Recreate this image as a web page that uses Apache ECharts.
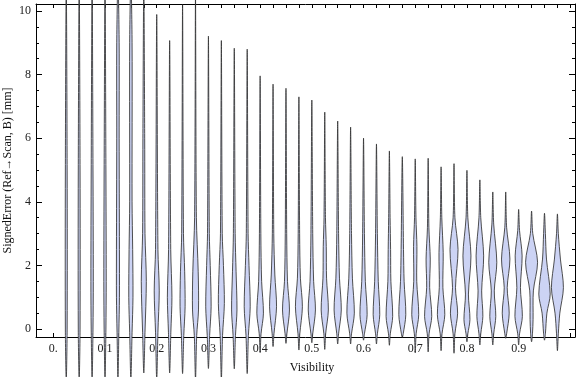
<!DOCTYPE html>
<html>
<head>
<meta charset="UTF-8">
<script src="https://cdn.jsdelivr.net/npm/echarts@6/dist/echarts.min.js"></script>
<style>
  html, body { margin: 0; background: #fff; }
  #chart { width: 576px; height: 377px; }
</style>
</head>
<body>
<div id="chart"></div>
<script>
// violin centres along Visibility
const visibility = [0.025, 0.05, 0.075, 0.1, 0.125, 0.15, 0.175, 0.2, 0.225, 0.25,
  0.275, 0.3, 0.325, 0.35, 0.375, 0.4, 0.425, 0.45, 0.475, 0.5,
  0.525, 0.55, 0.575, 0.6, 0.625, 0.65, 0.675, 0.7, 0.725, 0.75,
  0.775, 0.8, 0.825, 0.85, 0.875, 0.9, 0.925, 0.95, 0.975];

// smallest and largest signed error of each violin (mm)
const lows = [-1.6, -1.6, -1.6, -1.6, -1.6, -1.6, -1.38, -1.6, -1.38, -1.4,
  -1.6, -1.24, -1.6, -1.25, -1.4, -0.74, -0.55, -0.45, -0.66, -0.43,
  -0.64, -0.47, -0.47, -0.35, -0.47, -0.51, -0.26, -0.75, -0.72, -0.68,
  -0.76, -0.40, -0.50, -0.50, -0.29, -0.50, -0.40, -0.35, -0.68];
const highs = [11, 11, 11, 11, 11, 11, 11, 9.89, 9.07, 10.2,
  10.5, 9.21, 9.07, 8.83, 8.80, 7.96, 7.70, 7.57, 7.30, 7.20,
  6.82, 6.54, 6.35, 6.00, 5.82, 5.60, 5.42, 5.35, 5.37, 5.10,
  5.20, 4.99, 4.69, 4.31, 4.31, 3.76, 3.71, 3.64, 3.62];

// density profile of each violin: [error, relative density]
const shapes = [
  [[0, 0.15], [5, 0.15]],
  [[0, 0.15], [5, 0.15]],
  [[0, 0.15], [1.5, 0.2], [5, 0.15]],
  [[0, 0.15], [1.5, 0.2], [5, 0.15]],
  [[-0.1, 0.15], [1, 0.25], [2.5, 0.25], [6, 0.2], [9, 0.2]],
  [[-0.1, 0.2], [1, 0.35], [2.5, 0.3], [4, 0.2], [9, 0.2]],
  [[-0.1, 0.2], [1.5, 0.42], [3, 0.2], [6, 0.15]],
  [[-0.1, 0.2], [1.2, 0.42], [2.5, 0.2]],
  [[-0.1, 0.2], [1.0, 0.38], [2.5, 0.18]],
  [[-0.2, 0.2], [0.7, 0.42], [1.8, 0.35], [3, 0.15]],
  [[-0.2, 0.2], [0.6, 0.5], [1.8, 0.45], [3.5, 0.15]],
  [[-0.2, 0.2], [0.7, 0.45], [2, 0.3], [3, 0.15]],
  [[-0.2, 0.2], [0.8, 0.5], [2, 0.35], [3, 0.15]],
  [[-0.2, 0.2], [0.6, 0.45], [1.8, 0.3], [3, 0.15]],
  [[-0.2, 0.2], [0.7, 0.5], [2, 0.3], [3, 0.15]],
  [[-0.15, 0.15], [0.5, 0.55], [1.5, 0.25], [3, 0.12]],
  [[-0.15, 0.15], [0.7, 0.58], [1.7, 0.3], [3, 0.12]],
  [[-0.15, 0.15], [0.6, 0.58], [1.5, 0.25], [3, 0.12]],
  [[-0.15, 0.15], [0.7, 0.58], [1.6, 0.25], [3, 0.12]],
  [[-0.15, 0.15], [0.6, 0.6], [1.5, 0.3], [3, 0.15]],
  [[-0.15, 0.15], [0.6, 0.6], [1.6, 0.3], [2.6, 0.25], [3.5, 0.12]],
  [[-0.15, 0.15], [0.6, 0.6], [1.6, 0.3], [3, 0.15]],
  [[-0.15, 0.15], [0.5, 0.62], [1.6, 0.3], [3, 0.15]],
  [[-0.15, 0.15], [0.45, 0.6], [1.5, 0.3], [3, 0.15]],
  [[-0.15, 0.15], [0.45, 0.55], [1.5, 0.3], [3, 0.15]],
  [[-0.15, 0.15], [0.4, 0.55], [1.5, 0.25], [2.5, 0.2], [3.5, 0.12]],
  [[-0.15, 0.15], [0.45, 0.58], [1.5, 0.3], [2.5, 0.2]],
  [[-0.15, 0.15], [0.45, 0.58], [1.5, 0.25], [2.6, 0.28], [3.5, 0.12]],
  [[-0.15, 0.15], [0.4, 0.6], [1.3, 0.25], [2.2, 0.35], [3.2, 0.12]],
  [[-0.15, 0.15], [0.45, 0.62], [1.3, 0.3], [2.4, 0.35], [3.5, 0.12]],
  [[-0.15, 0.15], [0.5, 0.6], [1.3, 0.25], [2.5, 0.67], [3.5, 0.15]],
  [[-0.15, 0.15], [0.3, 0.5], [1.1, 0.25], [2.3, 0.67], [3.5, 0.15]],
  [[-0.15, 0.15], [0.4, 0.5], [1.2, 0.3], [2.3, 0.63], [3.5, 0.15]],
  [[-0.15, 0.15], [0.4, 0.5], [1.2, 0.25], [2.1, 0.67], [3.3, 0.15]],
  [[-0.15, 0.15], [0.5, 0.58], [1.3, 0.25], [2.2, 0.7], [3.2, 0.15]],
  [[-0.15, 0.15], [0.4, 0.62], [1.3, 0.3], [2.3, 0.58], [3.1, 0.15]],
  [[-0.15, 0.15], [0.3, 0.25], [1.2, 0.3], [2.1, 1.0], [3.0, 0.2]],
  [[-0.15, 0.15], [0.5, 0.4], [1.1, 0.95], [2.2, 0.33], [3, 0.15]],
  [[-0.15, 0.15], [0.5, 0.4], [1.3, 1.0], [2.2, 0.5], [3, 0.15]]
];

const xLabelValues = [0, 0.1, 0.2, 0.3, 0.4, 0.5, 0.6, 0.7, 0.8, 0.9];
const yLabelValues = [0, 2, 4, 6, 8, 10];

let xTicks = [];
for (let i = 0; i <= 40; i++) xTicks.push(i * 0.025);
let yMinor = [];
for (let i = 0; i <= 20; i++) yMinor.push(i * 0.5);

const halfWidth = 0.0116;   // x-units for density 1
const font = 'Liberation Serif';
const X_MIN = -0.0335, X_MAX = 1.009, Y_MIN = -0.25, Y_MAX = 10.22;

function renderViolin(params, api) {
    let i = params.dataIndex;
    let x = api.value(0);
    let pts = [[lows[i], 0]].concat(shapes[i], [[highs[i], 0]]);
    let right = pts.map(p => api.coord([x + p[1] * halfWidth, p[0]]));
    let left = pts.slice(1, -1).reverse().map(p => api.coord([x - p[1] * halfWidth, p[0]]));
    return {
        type: 'polygon',
        shape: { points: right.concat(left), smooth: 0.3 },
        style: { fill: '#ccd3f4', stroke: 'rgba(50,50,50,0.85)', lineWidth: 1 }
    };
}

let frameLine = { show: true, onZero: false, lineStyle: { color: '#000', width: 1 } };
let noLine = { show: false, onZero: false };

// minor y ticks live on extra, identical grids so the axes do not get offset
function minorY(pos, gi) {
    return {
        gridIndex: gi, type: 'value', min: Y_MIN, max: Y_MAX, position: pos,
        axisLine: noLine,
        axisTick: { inside: true, length: 3, customValues: yMinor, lineStyle: { color: '#000' } },
        axisLabel: { show: false }, splitLine: { show: false }
    };
}

let option = {
    backgroundColor: '#fff',
    animation: false,
    grid: [
        { left: 36, right: 1, top: 4, bottom: 40, outerBoundsMode: 'none' },
        { left: 36, right: 1, top: 4, bottom: 40, outerBoundsMode: 'none' },
        { left: 36, right: 1, top: 4, bottom: 40, outerBoundsMode: 'none' }
    ],
    xAxis: [
        {
            type: 'value', min: X_MIN, max: X_MAX, position: 'bottom',
            axisLine: frameLine,
            axisTick: { inside: true, length: 4, customValues: xTicks, lineStyle: { color: '#000' } },
            axisLabel: {
                customValues: xLabelValues, margin: 6,
                color: '#222', fontFamily: font, fontSize: 12,
                formatter: v => v === 0 ? '0.' : v.toFixed(1)
            },
            splitLine: { show: false },
            name: 'Visibility', nameLocation: 'middle', nameGap: 25, nameMoveOverlap: false,
            nameTextStyle: { color: '#111', fontFamily: font, fontSize: 12, padding: [0, 0, 0, 13] }
        },
        {
            type: 'value', min: X_MIN, max: X_MAX, position: 'top',
            axisLine: frameLine,
            axisTick: { inside: true, length: 4, customValues: xTicks, lineStyle: { color: '#000' } },
            axisLabel: { show: false },
            splitLine: { show: false }
        },
        { gridIndex: 1, type: 'value', min: X_MIN, max: X_MAX, show: false },
        { gridIndex: 2, type: 'value', min: X_MIN, max: X_MAX, show: false }
    ],
    yAxis: [
        {
            type: 'value', min: Y_MIN, max: Y_MAX, position: 'left',
            axisLine: frameLine,
            axisTick: { inside: true, length: 6, customValues: yLabelValues, lineStyle: { color: '#000' } },
            axisLabel: { customValues: yLabelValues, margin: 5, color: '#222', fontFamily: font, fontSize: 12 },
            splitLine: { show: false },
            name: 'SignedError (Ref\u2192Scan, B) [mm]', nameLocation: 'middle', nameGap: 22, nameRotate: 90,
            nameMoveOverlap: false,
            nameTextStyle: { color: '#111', fontFamily: font, fontSize: 12 }
        },
        {
            type: 'value', min: Y_MIN, max: Y_MAX, position: 'right',
            axisLine: frameLine,
            axisTick: { inside: true, length: 6, customValues: yLabelValues, lineStyle: { color: '#000' } },
            axisLabel: { show: false },
            splitLine: { show: false }
        },
        minorY('left', 1),
        minorY('right', 2)
    ],
    series: [
        {
            type: 'custom',
            xAxisIndex: 0,
            yAxisIndex: 0,
            clip: false,
            renderItem: renderViolin,
            encode: { x: 0, y: [1, 2] },
            data: visibility.map((v, i) => [v, lows[i], highs[i]])
        }
    ]
};

let chart = echarts.init(document.getElementById('chart'));
chart.setOption(option);
</script>
</body>
</html>
